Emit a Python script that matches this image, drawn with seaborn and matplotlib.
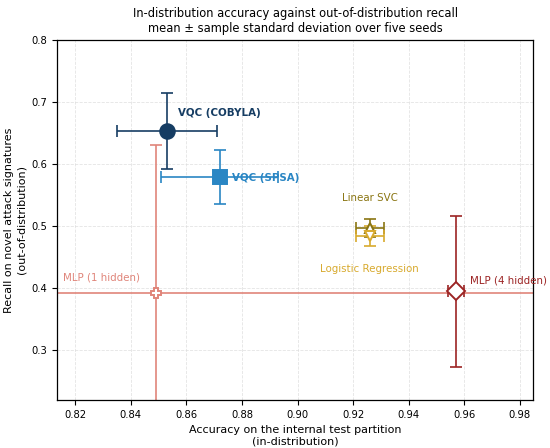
import numpy as np
import pandas as pd
import matplotlib
matplotlib.use("Agg")
import matplotlib.pyplot as plt
import seaborn as sns

models = ["VQC (COBYLA)", "VQC (SPSA)", "Linear SVC", "Logistic Regression",
          "MLP (1 hidden)", "MLP (4 hidden)"]
acc_mean = [0.853, 0.872, 0.926, 0.926, 0.849, 0.957]
acc_std = [0.018, 0.021, 0.005, 0.005, 0.150, 0.003]
rec_mean = [0.653, 0.579, 0.497, 0.484, 0.393, 0.395]
rec_std = [0.061, 0.043, 0.014, 0.016, 0.237, 0.121]

colors = ["#163d63", "#2a86c4", "#8a7512", "#d8aa2e", "#e0857a", "#9c2424"]
markers = ["o", "s", "^", "v", "P", "D"]
filled = [True, True, False, False, False, False]
msizes = [10.5, 9.5, 7.5, 7.5, 7.5, 9.5]

df = pd.DataFrame({"model": models, "acc": acc_mean, "acc_sd": acc_std,
                   "rec": rec_mean, "rec_sd": rec_std})

sns.set_style("ticks", {"text.color": "black", "xtick.color": "black",
                        "ytick.color": "black", "axes.labelcolor": "black"})
plt.rcParams['font.family'] = ['DejaVu Sans']
fig, ax = plt.subplots(figsize=(5.5, 4.48), dpi=100)

for i, row in df.iterrows():
    c = colors[i]
    ax.errorbar(row["acc"], row["rec"], xerr=row["acc_sd"], yerr=row["rec_sd"],
                fmt="none", ecolor=c, elinewidth=1.2, capsize=4, capthick=1.2, zorder=2)
    ax.plot(row["acc"], row["rec"], marker=markers[i], markersize=msizes[i],
            color=c, markerfacecolor=c if filled[i] else "white",
            markeredgewidth=1.4, linestyle="none", zorder=3)

# labels
ax.text(0.857, 0.677, "VQC (COBYLA)", color=colors[0], fontsize=7.4, fontweight="bold")
ax.text(0.8765, 0.572, "VQC (SPSA)", color=colors[1], fontsize=7.4, fontweight="bold")
ax.text(0.926, 0.540, "Linear SVC", color=colors[2], fontsize=7.4, ha="center")
ax.text(0.926, 0.427, "Logistic Regression", color=colors[3], fontsize=7.4, ha="center")
ax.text(0.8155, 0.413, "MLP (1 hidden)", color=colors[4], fontsize=7.4)
ax.text(0.962, 0.407, "MLP (4 hidden)", color=colors[5], fontsize=7.4)

ax.set_xlim(0.8135, 0.9847)
ax.set_ylim(0.22, 0.8)
ax.set_xticks(np.arange(0.82, 0.981, 0.02))
ax.set_yticks([0.3, 0.4, 0.5, 0.6, 0.7, 0.8])
ax.tick_params(labelsize=7.2)
ax.grid(True, linestyle="--", linewidth=0.6, color="#dddddd", alpha=0.8)
for s in ax.spines.values():
    s.set_visible(True)
    s.set_color("black")
    s.set_linewidth(0.9)

ax.set_xlabel("Accuracy on the internal test partition\n(in-distribution)", fontsize=8)
ax.set_ylabel("Recall on novel attack signatures\n(out-of-distribution)", fontsize=8)
ax.set_title("In-distribution accuracy against out-of-distribution recall\n"
             "mean \u00b1 sample standard deviation over five seeds", fontsize=8.3)

fig.subplots_adjust(left=0.104, right=0.969, top=0.911, bottom=0.107)
fig.savefig("out.png", dpi=100)
